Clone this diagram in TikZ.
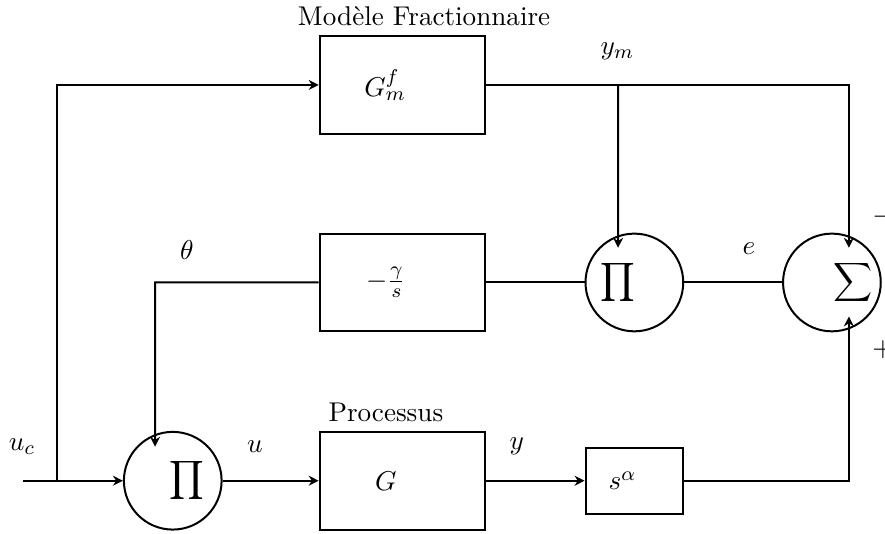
\documentclass[tikz,border=0pt]{standalone}
\usepackage{amsmath}
\usepackage{amssymb}
\usetikzlibrary{arrows.meta}
\begin{document}
\begin{tikzpicture}[>={Stealth[length=4pt, width=4pt, inset=1.3pt]}, thick,
	font=\fontsize{10.9}{13}\selectfont,
	bloc/.style={draw, rectangle, minimum width=2.33cm, minimum height=1.38cm},
	petitbloc/.style={draw, rectangle, minimum width=1.38cm, minimum height=0.93cm},
	rond/.style={draw, circle, minimum size=1.38cm, inner sep=0pt}]
	\useasboundingbox (0,0) rectangle (12.5,7.54);
	% blocs
	\node[bloc, label={[xshift=0.31cm]above:Modèle Fractionnaire}] (gm) at (5.68,6.34) {$G_m^f$\kern0.48cm};
	\node[bloc] (gam) at (5.68,3.55) {$-\frac{\gamma}{s}$\kern0.46cm};
	\node[bloc, label={[xshift=-0.23cm]above:Processus}] (proc) at (5.68,0.75) {$G$\kern0.46cm};
	\node[petitbloc] (sal) at (8.96,0.75) {$s^{\alpha}$\kern0.34cm};
	\node[rond] (pib) at (2.44,0.75) {\kern0.4cm$\displaystyle\prod$};
	\node[rond] (pim) at (8.96,3.55) {$\displaystyle\prod$\kern0.48cm};
	\node[rond] (sig) at (11.75,3.55) {\kern0.6cm$\displaystyle\sum$};
	% points de passage
	\coordinate (uc) at (0.33,0.75);
	\coordinate (br) at (0.81,0.75);
	\coordinate (dr) at (11.99,6.34);
	\coordinate (ym) at (8.73,6.34);
	\coordinate (th) at (2.19,3.55);
	% liaisons
	\draw[->] (uc) -- (pib.west);
	\draw[->] (br) |- (gm.west);
	\draw[->] (pib.east) -- (proc.west);
	\draw[->] (proc.east) -- (sal.west);
	\draw[->] (sal.east) -| ([shift={(0.24,-0.48)}]sig.center);
	\draw[->] (gm.east) -- (dr) -- ([shift={(0.24,0.49)}]sig.center);
	\draw[->] (ym) -- ([shift={(-0.23,0.49)}]pim.center);
	\draw (pim.east) -- (sig.west);
	\draw (pim.west) -- (gam.east);
	\draw[->] (gam.west) -- (th) -- ([shift={(-0.25,0.48)}]pib.center);
	% signaux
	\node (luc) at (0.31,1.23) {$u_c$};
	\node (lu) at (3.60,1.23) {$u$};
	\node (ly) at (7.30,1.23) {$y$};
	\node (lth) at (2.64,4.01) {$\theta$};
	\node (le) at (10.58,4.03) {$e$};
	\node (lym) at (8.72,6.81) {$y_m$};
	\node (lmoins) at (12.47,4.48) {$-$};
	\node (lplus) at (12.47,2.60) {$+$};
\end{tikzpicture}
\end{document}
